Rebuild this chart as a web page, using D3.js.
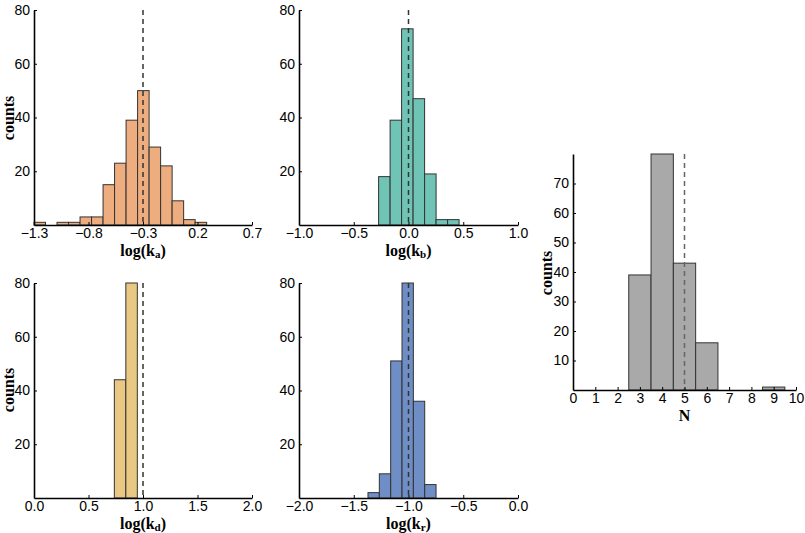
<!DOCTYPE html>
<html>
<head>
<meta charset="utf-8">
<script src="https://cdn.jsdelivr.net/npm/d3@7"></script>
<style>
  html, body { margin: 0; padding: 0; background: #fff; }
  svg { display: block; }
  .tick text { font-family: "Liberation Sans", Arial, Helvetica, sans-serif; font-size: 14px; fill: #000; }
  .lbl { font-family: "Liberation Serif", "DejaVu Serif", serif; font-weight: bold; font-size: 16px; fill: #000; }
  .ylbl { font-family: "Liberation Serif", "DejaVu Serif", serif; font-weight: bold; font-size: 16px; fill: #000; }
</style>
</head>
<body>
<svg id="chart" width="805" height="533"></svg>
<script>
// ---------------- data ----------------
const kaBinStart = -1.30, kaBinWidth = 0.1056;
const kaCounts = [1, 0, 1, 1, 3, 3, 15, 23, 39, 50, 29, 22, 9, 2, 1];
const kaTicks = [-1.3, -0.8, -0.3, 0.2, 0.7];
const kaRef = -0.3;

const kbBinStart = -0.273, kbBinWidth = 0.105;
const kbCounts = [18, 39, 73, 47, 19, 2, 2];
const kbTicks = [-1.0, -0.5, 0.0, 0.5, 1.0];
const kbRef = 0.0;

const kdBinStart = 0.737, kdBinWidth = 0.1055;
const kdCounts = [44, 156];
const kdTicks = [0.0, 0.5, 1.0, 1.5, 2.0];
const kdRef = 1.0;

const krBinStart = -1.370, krBinWidth = 0.1036;
const krCounts = [2, 9, 51, 97, 36, 5];
const krTicks = [-2.0, -1.5, -1.0, -0.5, 0.0];
const krRef = -1.0;

const nValues = [3, 4, 5, 6, 7, 8, 9];
const nCounts = [39, 101, 43, 16, 0, 0, 1];
const nTicks = [0, 1, 2, 3, 4, 5, 6, 7, 8, 9, 10];
const nYTicks = [10, 20, 30, 40, 50, 60, 70];
const nRef = 5;

const countTicks = [20, 40, 60, 80];

// ---------------- drawing ----------------
const svg = d3.select("#chart");

function binsFrom(start, width, counts) {
  return counts.map((c, i) => ({ x0: start + i * width, x1: start + (i + 1) * width, c }));
}

function panel(cfg) {
  const g = svg.append("g");
  const x = d3.scaleLinear().domain(cfg.xDomain).range([cfg.left, cfg.right]);
  const y = d3.scaleLinear().domain([0, cfg.yMax]).range([cfg.bottom, cfg.top]).clamp(true);

  g.selectAll("rect.bar").data(cfg.bins.filter(d => d.c > 0)).enter().append("rect")
    .attr("class", "bar")
    .attr("x", d => x(d.x0))
    .attr("width", d => x(d.x1) - x(d.x0))
    .attr("y", d => y(d.c))
    .attr("height", d => cfg.bottom - y(d.c))
    .attr("fill", cfg.color)
    .attr("stroke", "#333")
    .attr("stroke-width", 1);

  g.append("line")
    .attr("x1", x(cfg.ref)).attr("x2", x(cfg.ref))
    .attr("y1", y(cfg.yMax)).attr("y2", cfg.bottom)
    .attr("stroke", cfg.refColor || "#333")
    .attr("stroke-width", 1.5)
    .attr("stroke-dasharray", "5,4");

  const xa = g.append("g").attr("transform", `translate(0,${cfg.bottom})`)
    .call(d3.axisBottom(x).tickValues(cfg.xTicks).tickFormat(cfg.xFmt)
      .tickSizeInner(-3).tickSizeOuter(0).tickPadding(3));
  const ya = g.append("g").attr("transform", `translate(${cfg.left},0)`)
    .call(d3.axisLeft(y).tickValues(cfg.yTicks).tickFormat(d3.format("d"))
      .tickSizeInner(-3).tickSizeOuter(0).tickPadding(4));
  [xa, ya].forEach(a => {
    a.select(".domain").attr("stroke", "#000").attr("stroke-width", 1.6);
    a.selectAll(".tick line").attr("stroke", "#000");
  });

  if (cfg.xLabel) {
    const t = g.append("text").attr("class", "lbl")
      .attr("x", (cfg.left + cfg.right) / 2).attr("y", cfg.bottom + cfg.xLabelDy)
      .attr("text-anchor", "middle");
    if (cfg.sub) {
      t.append("tspan").text("log(k");
      t.append("tspan").attr("font-size", "11px").attr("dy", 2).text(cfg.sub);
      t.append("tspan").attr("dy", -2).text(")");
    } else {
      t.text(cfg.xLabel);
    }
  }
  if (cfg.yLabel) {
    g.append("text").attr("class", "ylbl")
      .attr("transform", `translate(${cfg.yLabelX},${cfg.yLabelY}) rotate(-90)`)
      .attr("text-anchor", "middle").attr("dy", "0.35em")
      .text("counts");
  }
}

const f1 = d3.format(".1f");

panel({ bins: binsFrom(kaBinStart, kaBinWidth, kaCounts), xDomain: [-1.3, 0.7], xTicks: kaTicks, xFmt: f1,
  yMax: 80, yTicks: countTicks, ref: kaRef, color: "#EDAD7F",
  left: 34, right: 252, top: 10, bottom: 225, xLabel: true, xLabelDy: 31, sub: "a", yLabel: true, yLabelX: 8, yLabelY: 118 });

panel({ bins: binsFrom(kbBinStart, kbBinWidth, kbCounts), xDomain: [-1.0, 1.0], xTicks: kbTicks, xFmt: f1,
  yMax: 80, yTicks: countTicks, ref: kbRef, color: "#70C4B6",
  left: 299, right: 518, top: 10, bottom: 225, xLabel: true, xLabelDy: 31, sub: "b" });

panel({ bins: binsFrom(kdBinStart, kdBinWidth, kdCounts), xDomain: [0.0, 2.0], xTicks: kdTicks, xFmt: f1,
  yMax: 80, yTicks: countTicks, ref: kdRef, color: "#E9C884",
  left: 34, right: 252, top: 283, bottom: 498, xLabel: true, xLabelDy: 31, sub: "d", yLabel: true, yLabelX: 8, yLabelY: 390 });

panel({ bins: binsFrom(krBinStart, krBinWidth, krCounts), xDomain: [-2.0, 0.0], xTicks: krTicks, xFmt: f1,
  yMax: 80, yTicks: countTicks, ref: krRef, color: "#6F8EC6",
  left: 299, right: 518, top: 283, bottom: 498, xLabel: true, xLabelDy: 31, sub: "r" });

panel({ bins: nValues.map((v, i) => ({ x0: v - 0.5, x1: v + 0.5, c: nCounts[i] })), xDomain: [0, 10], xTicks: nTicks,
  xFmt: d3.format("d"), yMax: 80, yTicks: nYTicks, ref: nRef, color: "#A9A9A9", refColor: "#666",
  left: 573, right: 796, top: 154, bottom: 390, xLabel: "N", xLabelDy: 31, yLabel: true, yLabelX: 546, yLabelY: 273 });
</script>
</body>
</html>
